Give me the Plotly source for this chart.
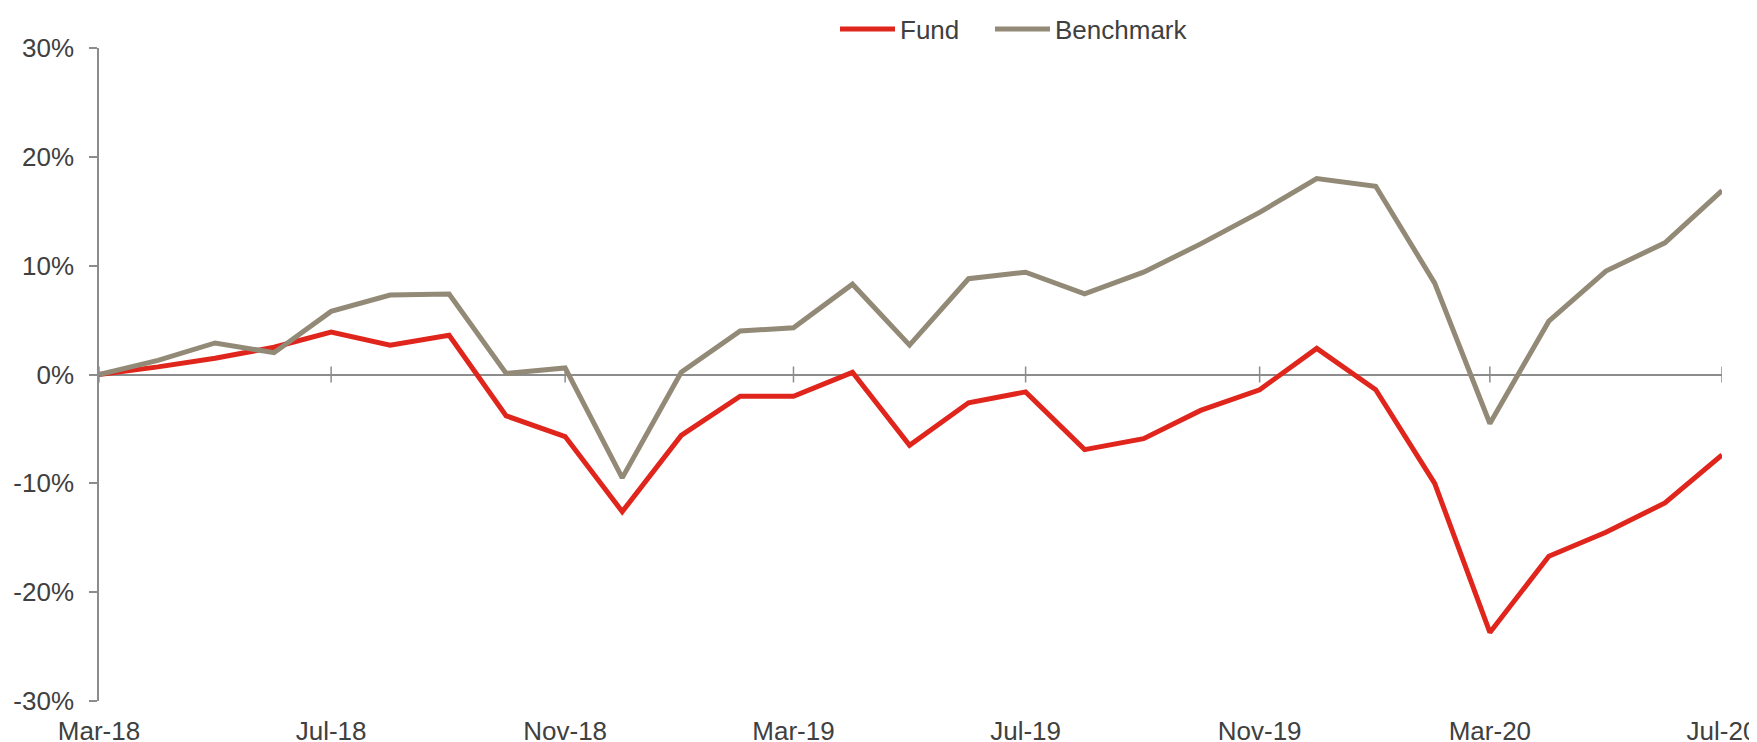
import plotly.graph_objects as go
import pandas as pd

# ---- data (percent) ----
dates = pd.date_range("2018-03-01", "2020-07-01", freq="MS")
fund = [0.0, 0.7, 1.5, 2.5, 3.9, 2.7, 3.6, -3.8, -5.7, -12.6, -5.6, -2.0, -2.0, 0.2,
        -6.5, -2.6, -1.6, -6.9, -5.9, -3.3, -1.4, 2.4, -1.4, -10.0, -23.7, -16.7,
        -14.5, -11.8, -7.4]
benchmark = [0.0, 1.3, 2.9, 2.0, 5.8, 7.3, 7.4, 0.1, 0.6, -9.5, 0.2, 4.0, 4.3, 8.3,
             2.7, 8.8, 9.4, 7.4, 9.4, 12.0, 14.9, 18.0, 17.3, 8.4, -4.5, 4.9, 9.5,
             12.1, 16.9]
x_tick_dates = dates[::4]
x_tick_labels = ["Mar-18", "Jul-18", "Nov-18", "Mar-19", "Jul-19", "Nov-19", "Mar-20", "Jul-20"]
y_tick_vals = [-30, -20, -10, 0, 10, 20, 30]
y_tick_labels = ["-30%", "-20%", "-10%", "0%", "10%", "20%", "30%"]

FONT = "Liberation Sans, Arial, sans-serif"
TXT = "#404040"
AXIS = "#8c8c8c"
W, H = 1757, 742

fig = go.Figure()
fig.add_trace(go.Scatter(x=dates, y=fund, mode="lines", name="Fund", legend="legend",
                         line=dict(color="#E0261C", width=5)))
fig.add_trace(go.Scatter(x=dates, y=benchmark, mode="lines", name="Benchmark", legend="legend2",
                         line=dict(color="#928A76", width=5)))

# tick marks crossing the zero line
for d in x_tick_dates:
    fig.add_shape(type="line", xref="x", yref="y", x0=d, x1=d,
                  ysizemode="pixel", yanchor=0, y0=-8, y1=8,
                  line=dict(color=AXIS, width=1.5), layer="below")

leg_common = dict(orientation="h", xref="container", yref="container",
                  xanchor="left", y=1 - 21 / H, yanchor="middle",
                  font=dict(size=26, color=TXT), itemwidth=55,
                  bgcolor="rgba(0,0,0,0)")

fig.update_layout(
    width=W, height=H,
    margin=dict(l=91, r=43, t=40, b=49, autoexpand=False),
    paper_bgcolor="white", plot_bgcolor="white",
    font=dict(family=FONT, size=26, color=TXT),
    showlegend=True,
    legend=dict(x=827 / W, **leg_common),
    legend2=dict(x=982 / W, **leg_common),
    xaxis=dict(range=[dates[0], dates[-1]], showgrid=False, zeroline=False,
               showline=False, ticks="", tickvals=x_tick_dates, ticktext=x_tick_labels,
               ticklabelstandoff=12, ticklabeloverflow="allow",
               tickfont=dict(size=26, color=TXT)),
    yaxis=dict(range=[-30, 30], showgrid=False, zeroline=True, zerolinecolor=AXIS,
               zerolinewidth=1.5, showline=True, linecolor=AXIS, linewidth=1.5,
               ticks="outside", ticklen=8, tickcolor=AXIS, tickwidth=1.5,
               tickvals=y_tick_vals, ticktext=y_tick_labels, ticklabelstandoff=10,
               tickfont=dict(size=26, color=TXT)),
)

fig.write_html("out.html")
